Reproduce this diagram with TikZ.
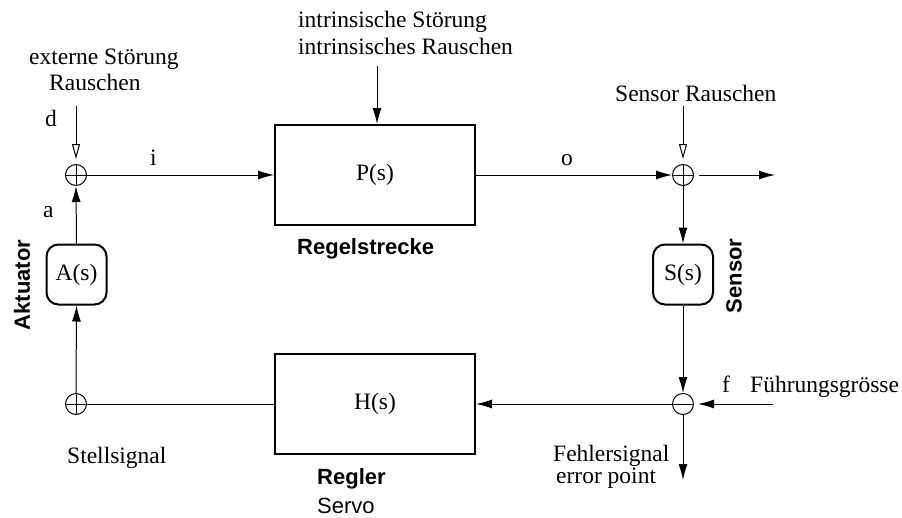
\documentclass[tikz,border=0pt]{standalone}
\usepackage{fontspec}
\setmainfont{Liberation Serif}
\setsansfont{Liberation Sans}
\usetikzlibrary{arrows.meta}

\begin{document}
\begin{tikzpicture}[x=1pt,y=-1pt,
  every node/.style={font=\fontsize{23.5}{27}\selectfont},
  blk/.style={draw,line width=2pt,minimum width=200pt,minimum height=100pt,inner sep=0pt},
  rblk/.style={draw,line width=2pt,rounded corners=12pt,minimum width=60pt,minimum height=60pt,inner sep=0pt},
  sumpt/.style={circle,draw,line width=1pt,minimum size=21pt,inner sep=0pt},
  plusjct/.style={sumpt,path picture={\draw[line width=1pt]
      (path picture bounding box.north)--(path picture bounding box.south)
      (path picture bounding box.west)--(path picture bounding box.east);}},
  minusjct/.style={sumpt,path picture={\draw[line width=1pt]
      (path picture bounding box.west)--(path picture bounding box.east);}},
  lbl/.style={inner sep=0pt,anchor=base west},
  bsans/.style={inner sep=0pt,font=\fontsize{22}{25}\selectfont\sffamily\bfseries},
  sig/.style={line width=1pt,-{Latex[length=16pt,width=9pt]}},
  noise/.style={line width=1pt,-{Triangle[open,length=15pt,width=8pt]},shorten >=5pt},
]
\useasboundingbox (0,0) rectangle (902,517);

% blocks
\node[blk]  (P) at (375,175) {P(s)};
\node[blk]  (H) at (375,404) {H(s)};
\node[rblk] (A) at (76.5,274.5) {A(s)};
\node[rblk] (S) at (683,274.5) {S(s)};

% summing points
\node[plusjct]  (jd) at (76,175) {};
\node[plusjct]  (jo) at (683,175) {};
\node[plusjct]  (ju) at (76,404) {};
\node[minusjct] (je) at (683,404) {};

% free ends
\coordinate (dtop) at (76,106);
\coordinate (stop) at (683,106);
\coordinate (itop) at (377,66);
\coordinate (oout) at (775,175);
\coordinate (fin)  at (773,404);
\coordinate (eout) at (683,480);

% labels
\node[lbl] (ext1) at (29,64) {externe Störung};
\node[lbl] (ext2) at (49,90) {Rauschen};
\node[lbl] (int1) at (298,27) {intrinsische Störung};
\node[lbl] (int2) at (298,54) {intrinsisches Rauschen};
\node[lbl] (sen)  at (615,101) {Sensor Rauschen};
\node[lbl] (dl)   at (45,126) {d};
\node[lbl] (il)   at (150,165) {i};
\node[lbl] (al)   at (43,217) {a};
\node[lbl] (ol)   at (561,165) {o};
\node[lbl] (stl)  at (67,463) {Stellsignal};
\node[lbl,align=left,font=\fontsize{23.5}{20}\selectfont] (fe) at (553,483)
  {Fehlersignal\\\hspace*{3pt}error point};
\node[lbl] (fl)   at (722,392) {f};
\node[lbl] (fg)   at (750,392) {Führungsgrösse};

\node[bsans,anchor=base west] (rs)  at (297,254) {Regelstrecke};
\node[bsans,anchor=base west] (rg)  at (317,484) {Regler};
\node[inner sep=0pt,anchor=base west,font=\fontsize{22}{25}\selectfont\sffamily] (sv) at (317,513) {Servo};
\node[bsans,rotate=90] (akt) at (22,285) {Aktuator};
\node[bsans,rotate=90] (sns) at (734,276) {Sensor};

% signal paths
\draw[sig] (jd.east) -- (P.west);
\draw[sig] (P.east) -- (jo.west);
\draw[sig,shorten <=5pt] (jo.east) -- (oout);
\draw[sig] (jo.south) -- (S.north);
\draw[sig] (S.south) -- (je.north);
\draw[sig,shorten >=4pt] (fin) -- (je.east);
\draw[sig] (je.west) -- (H.east);
\draw[line width=1pt] (H.west) -- (ju.east);
\draw[sig] (ju.north) -- (A.south);
\draw[sig] (A.north) -- (jd.south);
\draw[sig] (je.south) -- (eout);
\draw[sig] (itop) -- (itop |- P.north);

% disturbance inputs
\draw[noise] (dtop) -- (jd.north);
\draw[noise] (stop) -- (jo.north);
\end{tikzpicture}
\end{document}
